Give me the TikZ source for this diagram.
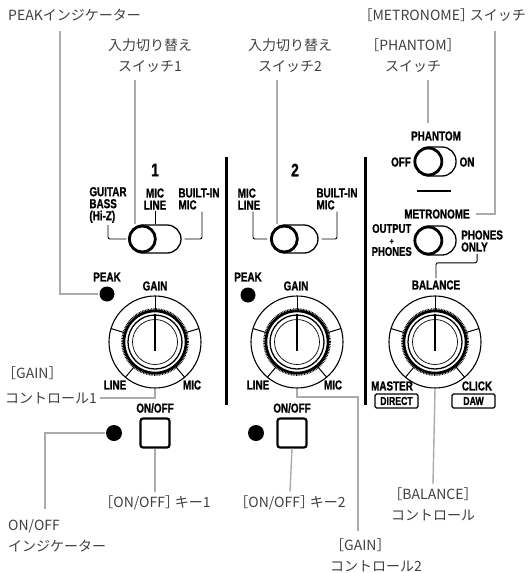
\documentclass[tikz,border=0pt]{standalone}
\usepackage{fontspec}
\setmainfont{Liberation Sans}
\newfontfamily\jpf{Noto Sans CJK JP}
\newfontfamily\cnf[FakeStretch=0.76,FakeBold=1.0]{Liberation Sans}
\usetikzlibrary{calc}
\definecolor{lead}{HTML}{ABABAB}
\definecolor{jtext}{HTML}{404040}
\newcommand\rbk{］\kern-0.3em}
\tikzset{
  jp/.style={font=\jpf\fontsize{14}{21}\selectfont, text=jtext, inner sep=0pt, align=center},
  jpl/.style={jp, align=left},
  pl/.style={font=\cnf\bfseries\fontsize{13}{12}\selectfont, inner sep=0pt, align=center},
  pll/.style={pl, align=left},
  num/.style={font=\cnf\bfseries\fontsize{18}{18}\selectfont, inner sep=0pt},
  leader/.style={draw=lead, line width=1.4pt},
  conn/.style={draw=black, line width=0.9pt, rounded corners=2pt},
  sepline/.style={line width=3pt},
  ledot/.style={circle, fill=black, minimum size=15pt, inner sep=0pt},
  btn/.style={draw, line width=2.2pt, rounded corners=2.5pt, minimum size=29pt, inner sep=0pt},
  tagbox/.style={draw, line width=1.1pt, rounded corners=1.5pt, font=\cnf\bfseries\fontsize{11.5}{11}\selectfont, minimum width=43pt, minimum height=14pt, inner sep=0pt},
  pill/.style={draw, line width=1.3pt, rounded corners=14pt, minimum height=28pt, inner sep=0pt},
  ring/.style={circle, draw, line width=1.1pt, minimum size=92pt, inner sep=0pt},
  knobin/.pic={
    \foreach \a in {17,163,-50,230} \draw[line width=1pt] (\a:32pt) -- (\a:46pt);
    \draw[line width=0.9pt] (0pt,30pt) -- (0pt,46pt);
    \draw[line width=2.6pt] (0pt,0pt) circle (31pt);
    \draw[line width=2pt, dash pattern=on 0.8pt off 0.8pt] (0pt,0pt) circle (32.8pt);
    \draw[line width=1.3pt] (0pt,0pt) circle (27pt);
    \draw[line width=0.7pt] (0pt,0pt) circle (22.5pt);
    \draw[line width=2.6pt] (0pt,28pt) -- (0pt,-9pt);
  },
}
\begin{document}
\begin{tikzpicture}[x=1pt,y=-1pt]
\useasboundingbox (0,0) rectangle (529,573);

% separators
\draw[sepline] (226,157) -- (226,405);
\draw[sepline] (365,157) -- (365,405);

% ---------------- section 1 ----------------
\node[num] (n1) at (155,170) {1};
\node[pll] (lgt) at (108,205) {GUITAR\\BASS\\(Hi-Z)};
\node[pl] (lml1) at (155,199) {MIC\\LINE};
\node[pll] (lbi1) at (199,199) {BUILT-IN\\MIC};
\node[pill, minimum width=52pt] (sw1) at (155,239) {};
\draw[line width=2.8pt] ([xshift=14pt]sw1.west) circle (13pt);
\draw[conn] ([yshift=-2pt]lgt.south) |- ([xshift=-2pt]sw1.west);
\draw[conn] ([yshift=-1pt]lml1.south) -- (sw1.north);
\draw[conn] ([xshift=3pt,yshift=-2pt]lbi1.south) |- ([xshift=3pt]sw1.east);

\node[pl] (pk1) at (107,277) {PEAK};
\node[ledot] (dot1) at (107,294) {};
\node[pl] (gain1) at (155,286) {GAIN};
\node[ring] (k1) at (155,342) {};
\pic at (k1) {knobin};
\node[pl] (line1) at (115,385) {LINE};
\node[pl] (mic1) at (192,385) {MIC};
\node[pl] (oo1) at (155,408) {ON/OFF};
\node[btn] (btn1) at (155,433) {};
\node[ledot, minimum size=16pt] (dot1b) at (114,433) {};

% ---------------- section 2 ----------------
\node[num] (n2) at (295,170) {2};
\node[pll] (lml2) at (249,199) {MIC\\LINE};
\node[pll] (lbi2) at (337,199) {BUILT-IN\\MIC};
\node[pill, minimum width=47pt] (sw2) at (294.5,239) {};
\draw[line width=2.8pt] ([xshift=14pt]sw2.west) circle (13pt);
\draw[conn] ([xshift=4pt,yshift=-2pt]lml2.south) |- ([xshift=-3pt]sw2.west);
\draw[conn] ([yshift=-2pt]lbi2.south) |- ([xshift=3pt]sw2.east);

\node[pl] (pk2) at (248,277) {PEAK};
\node[ledot] (dot2) at (248,295) {};
\node[pl] (gain2) at (296,286) {GAIN};
\node[ring] (k2) at (297,342) {};
\pic at (k2) {knobin};
\node[pl] (line2) at (258,385) {LINE};
\node[pl] (mic2) at (333,385) {MIC};
\node[pl] (oo2) at (292,408) {ON/OFF};
\node[btn] (btn2) at (292,433) {};
\node[ledot, minimum size=16pt] (dot2b) at (256,433) {};

% ---------------- section 3 ----------------
\node[pl] (lph) at (436,136) {PHANTOM};
\node[pl] (loff) at (401,162) {OFF};
\node[pl] (lon) at (467,162) {ON};
\node[pill, minimum width=41pt, minimum height=29pt] (swp) at (435.5,161.5) {};
\draw[line width=2.8pt] ([xshift=14pt]swp.west) circle (13.5pt);
\draw[line width=1.3pt] (417,191) -- (451,191);
\node[pl] (lmet) at (437,214) {METRONOME};
\node[pl, anchor=east, font=\cnf\bfseries\fontsize{12.5}{11.5}\selectfont] (lop) at (412,240) {OUTPUT\\{\fontsize{9}{9}\selectfont +}\\PHONES};
\node[pll, anchor=west] (lpo) at (461,241) {PHONES\\ONLY};
\node[pill, minimum width=41pt, minimum height=29pt] (swm) at (435.5,240.5) {};
\draw[line width=2.8pt] ([xshift=14pt]swm.west) circle (13.5pt);
\node[pl] (lbal) at (436,285) {BALANCE};
\draw[conn] ([xshift=-5pt,yshift=-2pt]lpo.south) -- ++(0,9) -| ([yshift=2pt]lbal.north);
\node[ring] (k3) at (435,342) {};
\pic at (k3) {knobin};
\node[pl] (lmas) at (392,386) {MASTER};
\node[tagbox] (tdir) at (396.5,401) {DIRECT};
\node[pl] (lclk) at (477,386) {CLICK};
\node[tagbox] (tdaw) at (473.5,401) {DAW};

% ---------------- callout texts ----------------
\node[jp, anchor=west] (tpeak) at (8,15) {PEAKインジケーター};
\node[jp, anchor=east] (tmet) at (526,15) {［METRONOME\rbk スイッチ};
\node[jp] (tin1) at (150,56) {入力切り替え\\スイッチ1};
\node[jp] (tin2) at (290,56) {入力切り替え\\スイッチ2};
\node[jp] (tph) at (413,56) {［PHANTOM］\\スイッチ};
\node[jpl, anchor=west] (tg1a) at (2,373) {［GAIN］};
\node[jpl, anchor=west] (tg1b) at (5,398) {コントロール1};
\node[jpl, anchor=north west] (tonoff) at (8,519) {ON/OFF\\インジケーター};
\node[jp] (tk1) at (155,503) {［ON/OFF\rbk キー1};
\node[jp] (tk2) at (290,503) {［ON/OFF\rbk キー2};
\node[jpl, anchor=north west] (tg2) at (330,538) {［GAIN］\\コントロール2};
\node[jp, anchor=north] (tbal) at (433,487) {［BALANCE］\\コントロール};

% ---------------- leaders ----------------
\coordinate (lp0) at (60,31);
\draw[leader] (lp0) |- ([xshift=-1pt]dot1.west);
\coordinate (li1) at (135,80);
\draw[leader] (li1) -- (sw1.north -| li1);
\coordinate (li2) at (277,80);
\draw[leader] (li2) -- (sw2.north -| li2);
\coordinate (lph0) at (428,80);
\draw[leader] (lph0) -- (428,123);
\coordinate (lm0) at (495,31);
\draw[leader] (lm0) |- ([xshift=6pt]lmet.east);
\draw[leader] (k1.south) |- ([xshift=3pt]tg1b.east);
\coordinate (lo0) at (45,509);
\draw[leader] (lo0) |- ([xshift=-1pt]dot1b.west);
\draw[leader] (btn1.south) -- ([yshift=4pt]tk1.north);
\draw[leader] (btn2.south) -- ([yshift=4pt]tk2.north);
\coordinate (g2m) at (358,397);
\coordinate (g2e) at (358,531);
\draw[leader] (k2.south) |- (g2m) -- (g2e);
\draw[leader] (k3.south) -- ([yshift=3pt]tbal.north);
\end{tikzpicture}
\end{document}
